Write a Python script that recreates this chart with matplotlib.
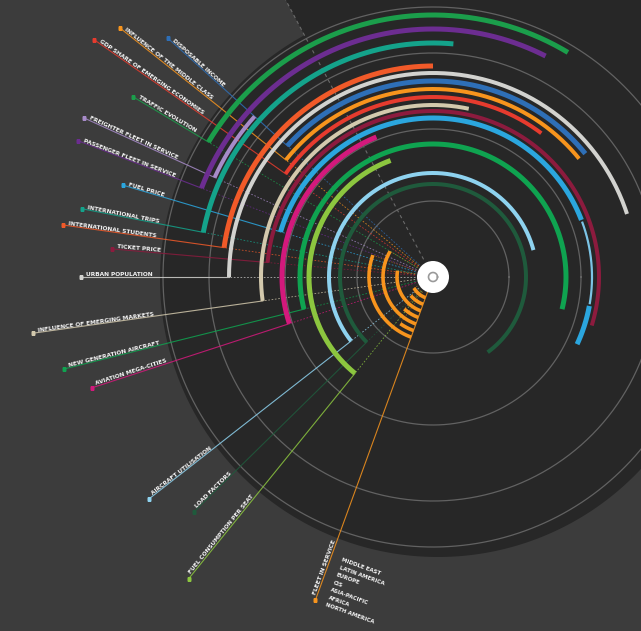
import numpy as np
import matplotlib
matplotlib.use("Agg")
import matplotlib.pyplot as plt

# ---------------- data ----------------
labels = ["DISPOSABLE INCOME", "INFLUENCE OF THE MIDDLE CLASS",
          "GDP SHARE OF EMERGING ECONOMIES", "TRAFFIC EVOLUTION",
          "FREIGHTER FLEET IN SERVICE", "PASSENGER FLEET IN SERVICE",
          "FUEL PRICE", "INTERNATIONAL TRIPS", "INTERNATIONAL STUDENTS",
          "TICKET PRICE", "URBAN POPULATION", "INFLUENCE OF EMERGING MARKETS",
          "NEW GENERATION AIRCRAFT", "AVIATION MEGA-CITIES",
          "AIRCRAFT UTILISATION", "LOAD FACTORS", "FUEL CONSUMPTION PER SEAT"]
start_deg = [138, 141.5, 145, 149, 155.5, 159, 163.5, 169, 172, 175, 180,
             188, 194, 198, 218, 224.5, 231]
end_deg = [39, 39, 53, 59, 138, 63, -25, 85, 90, -17, 18,
           78, -14, 112, 15, -54, 110]
ring = [196, 188, 180, 262, 240, 248, 159, 234, 211, 166, 204,
        172, 133, 151, 104, 93, 124]
label_r = [357, 400, 414, 350, 383, 380, 323, 358, 374, 322, 352,
           404, 380, 359, 360, 335, 388]
colors = ["#2e6fb7", "#f7941d", "#e63b2e", "#1b9e4b", "#a78bc9", "#6c2d91",
          "#2ba6de", "#14a38b", "#f15a29", "#8c1b3e", "#d2d2cf", "#d3c9ad",
          "#0fa350", "#d3197c", "#8ed2ef", "#1f5a3c", "#8cc63f"]
widths = [5, 4, 4, 5, 4, 5, 5, 5, 5, 4, 4, 4, 5, 5, 4, 4, 5]

# thinner stretch of the fuel price arc (start, end in degrees)
fuel_thin = (21, -10)

fleet_label = "FLEET IN SERVICE"
fleet_deg = 250
fleet_label_r = 344
regions = ["MIDDLE EAST", "LATIN AMERICA", "EUROPE", "CIS",
           "ASIA-PACIFIC", "AFRICA", "NORTH AMERICA"]
region_start = [210, 220, 170, 228, 149, 235, 160]
region_ring = [22, 29, 36, 43, 50, 57, 64]

grid_rings = [76, 148, 224, 270]

# ---------------- figure ----------------
BG = "#3c3c3c"
DARK = "#272727"
W, H = 641, 631
cx, cy = 433, 277
R = 450
fig = plt.figure(figsize=(W / 100, H / 100), dpi=100, facecolor=BG)
ax = fig.add_axes([(cx - R) / W, (H - cy - R) / H, 2 * R / W, 2 * R / H],
                  projection="polar")
ax.set_ylim(0, R)
ax.set_axis_off()

d2r = np.deg2rad
full = np.linspace(0, 2 * np.pi, 720)

# background dark disk (slightly off-centre) + wedge
disk_off = (5.0, -2.0)
disk_r = 278
px = disk_off[0] + disk_r * np.cos(full)
py = disk_off[1] + disk_r * np.sin(full)
ax.fill(np.arctan2(py, px), np.hypot(px, py), color=DARK, zorder=0, lw=0)
ax.bar(d2r(59), R, width=d2r(118), bottom=0, color=DARK, zorder=0, linewidth=0)
ax.plot([d2r(118)] * 2, [20, R], color="#6a6a6a", lw=0.8, ls=(0, (3, 3)), zorder=1)

for rr in grid_rings:
    ax.plot(full, np.full_like(full, rr), color="#626262", lw=0.9, zorder=1)

# leader lines + labels
for lab, s, e, rr, lr, c, w in zip(labels, start_deg, end_deg, ring,
                                     label_r, colors, widths):
    th = d2r(s)
    ax.plot([th, th], [18, rr], color=c, lw=0.6, ls=(0, (2, 2)), alpha=0.8, zorder=2)
    ax.plot([th, th], [rr, lr], color=c, lw=0.8, alpha=0.85, zorder=2)
    ax.plot([th], [lr], marker="s", ms=3.2, color=c, mec="none", zorder=4)
    ax.text(th, lr - 5, lab, rotation=s - 180, rotation_mode="anchor",
            ha="left", va="bottom", fontsize=4.2, fontweight="bold",
            color="#f2f2f2", zorder=5)

# arcs
for lab, s, e, rr, c, w in zip(labels, start_deg, end_deg, ring, colors, widths):
    t = np.linspace(d2r(s), d2r(e), 300)
    r_arr = np.full_like(t, rr, dtype=float)
    if lab == "FUEL PRICE":
        thin = (t <= d2r(fuel_thin[0])) & (t >= d2r(fuel_thin[1]))
        ax.plot(np.where(thin, np.nan, t), r_arr, color=c, lw=w * 0.72,
                solid_capstyle="butt", zorder=3)
        ax.plot(np.where(thin, t, np.nan), r_arr, color="#7cc4e6", lw=2.2 * 0.72,
                solid_capstyle="butt", zorder=3)
    else:
        ax.plot(t, r_arr, color=c, lw=w * 0.72, solid_capstyle="butt", zorder=3)

# fleet in service
FO = "#f7941d"
thf = d2r(fleet_deg)
ax.plot([thf, thf], [14, fleet_label_r], color=FO, lw=0.8, alpha=0.85, zorder=2)
ax.plot([thf], [fleet_label_r], marker="s", ms=3.2, color=FO, mec="none", zorder=4)
ax.text(thf, fleet_label_r - 5, fleet_label, rotation=fleet_deg - 180,
        rotation_mode="anchor", ha="left", va="bottom", fontsize=4.2,
        fontweight="bold", color="#f2f2f2", zorder=5)
for s, rr in zip(region_start, region_ring):
    t = np.linspace(d2r(s), thf, 200)
    ax.plot(t, np.full_like(t, rr), color=FO, lw=3.6 * 0.72,
            solid_capstyle="butt", zorder=3)
    ax.plot([d2r(s)] * 2, [18, rr], color=FO, lw=0.5, ls=(0, (2, 2)), alpha=0.6, zorder=2)

perp = (np.cos(d2r(fleet_deg - 270)), np.sin(d2r(fleet_deg - 270)))
for i, reg in enumerate(regions):
    rr = 297 + 8 * i
    ax.annotate(reg, xy=(thf, rr), xytext=(perp[0] * 8, perp[1] * 8),
                textcoords="offset points", rotation=fleet_deg - 270,
                rotation_mode="anchor", ha="left", va="center",
                fontsize=4.0, fontweight="bold", color="#f2f2f2", zorder=5)

# center
ax.bar(0, 16, width=2 * np.pi, bottom=0, color="white", zorder=6, linewidth=0)
ax.plot(full, np.full_like(full, 4.5), color="#9a9a9a", lw=1.2, zorder=7)

fig.savefig("out.png", dpi=100, facecolor=BG)
